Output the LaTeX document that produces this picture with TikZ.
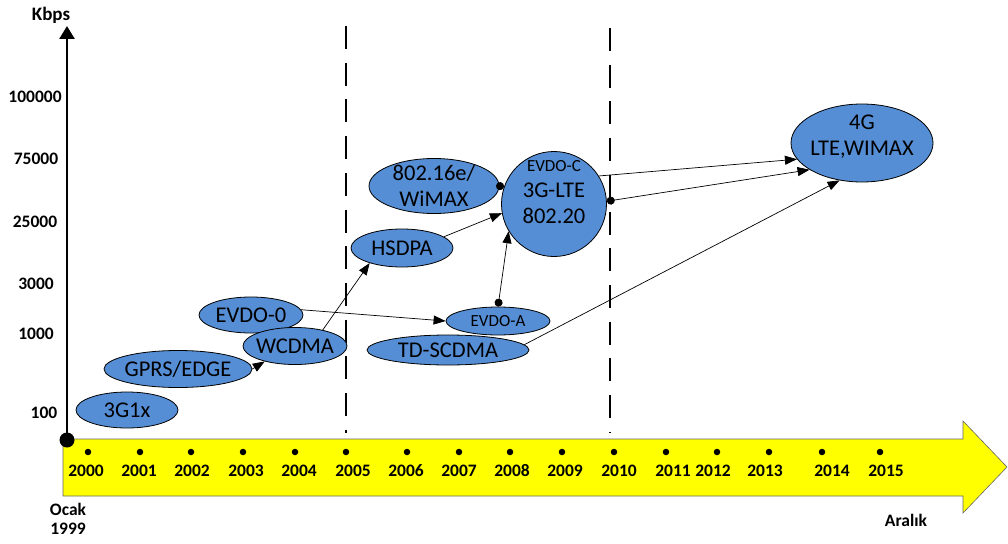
\documentclass[tikz,border=0pt]{standalone}
\usepackage{fontspec}
\setmainfont{Carlito}
\usetikzlibrary{shapes.geometric,arrows.meta}
\definecolor{ellblue}{RGB}{85,142,213}
\definecolor{tly}{RGB}{255,255,0}
\begin{document}
\begin{tikzpicture}[x=1pt,y=-1pt,
  bub/.style={ellipse,draw=black,line width=0.8pt,fill=ellblue,inner xsep=-10pt,inner ysep=-5pt,align=center,font=\fontsize{22.5}{26}\selectfont},
  txt/.style={inner sep=0pt,align=center,font=\fontsize{22.5}{26}\selectfont},
  lbl/.style={inner sep=0pt,align=center,font=\bfseries\fontsize{17.5}{19}\selectfont},
  conn/.style={line width=0.7pt,-{Triangle[length=12pt,width=9pt]}},
  dotconn/.style={line width=0.7pt,{Circle[length=8pt]}-{Triangle[length=12pt,width=9pt]}},
  yeardot/.style={circle,fill=black,inner sep=0pt,minimum size=6.5pt},
  sep/.style={line width=2.8pt,dash pattern=on 23pt off 13.7pt}]
\useasboundingbox (0,0) rectangle (1008,543);
% timeline arrow
\draw[fill=tly,draw=black!60,line width=0.6pt] (63,439) -- (963,439) -- (963,421) -- (1007,467) -- (963,513) -- (963,496) -- (63,496) -- cycle;
% separators
\draw[sep] (346,26) -- (346,433);
\draw[sep] (610,28) -- (610,433);
% y axis
\coordinate (origin) at (67,440);
\coordinate (ytop) at (67,26);
\draw[line width=2.6pt,-{Triangle[length=13pt,width=15pt]}] (origin) -- (ytop);
\fill (origin) circle (7.5pt);
\node[lbl,font=\bfseries\fontsize{19}{21}\selectfont] (kbps) at (51,15) {Kbps};
\node[lbl] (v1) at (35,97) {100000};
\node[lbl] (v2) at (36,159) {75000};
\node[lbl] (v3) at (35,222) {25000};
\node[lbl] (v4) at (36,284) {3000};
\node[lbl] (v5) at (36,334) {1000};
\node[lbl] (v6) at (44,413) {100};
\node[lbl] (ocak) at (68,519) {Ocak\\1999};
\node[lbl] (aralik) at (906,520) {Aralık};
% years
\foreach \d/\l/\y [count=\i] in {88/86/2000,140/139/2001,191/192/2002,243/246/2003,295/299/2004,346/353/2005,407/406/2006,459/459/2007,510/512/2008,562/565/2009,614/619/2010,666/673/2011,717/713/2012,769/765/2013,822/832/2014,880/886/2015}{
  \node[yeardot] (d\i) at (\d,452) {};
  \node[lbl] (y\i) at (\l,471) {\y};
}
% bubbles
\node[bub,minimum width=102pt,minimum height=36pt] (g1x) at (127,410) {3G1x};
\node[bub,minimum width=148pt,minimum height=37pt] (gprs) at (178,369) {GPRS/EDGE};
\node[bub,minimum width=104pt,minimum height=36pt] (evdo0) at (251,315) {EVDO-0};
\node[bub,minimum width=104pt,minimum height=37pt] (wcdma) at (295,346) {WCDMA};
\node[bub,minimum width=130pt,minimum height=55pt] (wimax) at (434,186) {802.16e/\\WiMAX};
\node[bub,minimum width=102pt,minimum height=38pt] (hsdpa) at (402,248) {HSDPA};
\node[bub,minimum width=105pt,minimum height=105pt] (lte) at (554,204) {};
\node[txt] (ltetext) at (554,192) {{\fontsize{17}{18}\selectfont EVDO-C}\\3G-LTE\\802.20};
\node[bub,minimum width=104pt,minimum height=28pt,font=\fontsize{17}{18}\selectfont] (evdoa) at (498,321) {EVDO-A};
\node[bub,minimum width=162pt,minimum height=30pt] (tds) at (448,350) {TD-SCDMA};
\node[bub,minimum width=142pt,minimum height=78pt] (g4) at (862,143) {};
\node[txt] (g4text) at (862,137) {4G\\LTE,WIMAX};
% connectors
\draw[conn] (gprs.east) -- (wcdma.207);
\draw[conn] (wcdma.30) -- (hsdpa.205);
\draw[conn] (evdo0.6) -- (evdoa.west);
\draw[conn] (hsdpa.15) -- (lte.190);
\draw[dotconn] (evdoa.north) -- (lte.211);
\draw[line width=0.7pt,-{Circle[length=8pt]}] (wimax.east) -- (lte.161);
\draw[conn] (lte.32) -- (g4.194);
\draw[dotconn] (lte.3) -- (g4.207);
\draw[conn] (tds.4) -- (g4.239);
\end{tikzpicture}
\end{document}
